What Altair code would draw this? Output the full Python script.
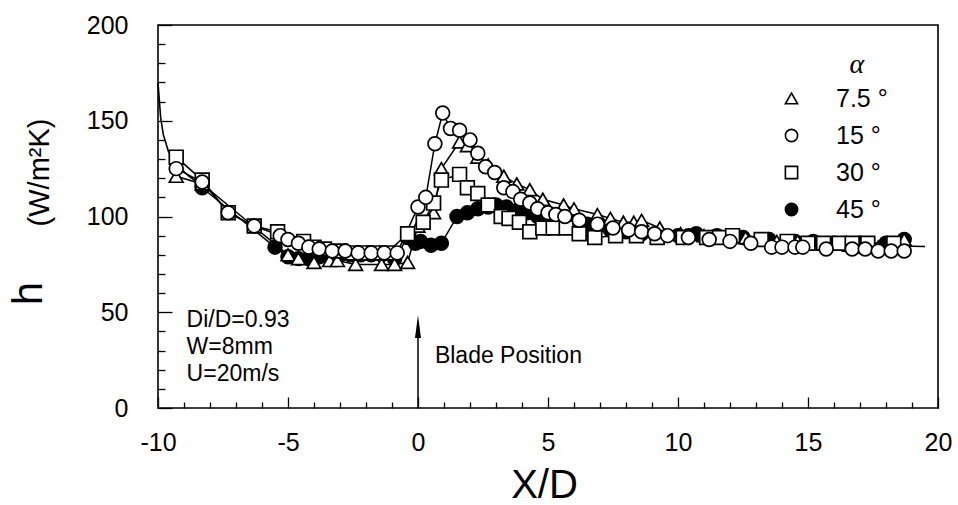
import altair as alt
import pandas as pd

# ---------------- data ----------------
series_labels = ["7.5 °", "15 °", "30 °", "45 °"]

x_75 = [-9.3, -8.3, -5.0, -4.6, -4.0, -3.4, -3.1, -2.4, -1.4, -0.9, -0.4, 0.0, 0.6, 0.9, 1.6, 1.9,
        2.3, 2.7, 3.3, 3.8, 4.3, 4.8, 5.6, 6.0, 6.9, 7.4, 7.9, 8.3, 8.6, 9.3, 10.1, 11.0, 11.7,
        12.6, 13.1, 13.8, 14.6, 15.1, 16.0, 16.6, 17.2, 17.7, 18.2, 18.7]
h_75 = [121, 117, 80, 78, 76, 77, 77, 75, 75, 75, 76, 95, 102, 125, 139, 137,
        131, 127, 121, 117, 114, 109, 106, 104, 101, 99, 97, 97, 98, 94, 91, 90, 89,
        89, 88, 87, 87, 86, 86, 85, 84, 84, 85, 88]

x_15 = [-9.3, -8.3, -7.3, -6.3, -5.3, -5.0, -4.6, -4.2, -3.8, -3.3, -2.8, -2.3, -1.8, -1.3, -0.8,
        0.0, 0.3, 0.65, 0.95, 1.25, 1.6, 2.0, 2.3, 2.6, 2.95, 3.3, 3.65, 3.95, 4.3, 4.6, 5.0,
        5.3, 5.65, 6.2, 6.9, 7.5, 8.1, 8.6, 9.1, 9.6, 10.4, 11.2, 12.0, 12.8, 13.6, 14.0, 14.5,
        14.8, 15.7, 16.7, 17.2, 17.7, 18.2, 18.7]
h_15 = [125, 118, 102, 95, 90, 88, 86, 84, 83, 82, 82, 81, 81, 81, 81,
        105, 110, 138, 154, 146, 145, 140, 133, 126, 123, 115, 113, 109, 107, 104, 102,
        101, 100, 98, 96, 94, 93, 92, 91, 90, 89, 88, 87, 86, 84, 84, 84,
        84, 83, 83, 83, 82, 82, 82]

x_30 = [-9.3, -8.3, -7.3, -6.3, -5.4, -4.4, -4.0, -3.6, -3.0, -2.5, -2.1, -1.7, -1.2, -0.4, 0.2,
        0.6, 0.9, 1.6, 1.9, 2.3, 2.7, 3.2, 3.5, 3.9, 4.3, 4.8, 5.2, 5.7, 6.2, 6.8, 7.6, 8.4,
        9.2, 10.2, 11.1, 11.6, 12.1, 13.2, 14.2, 15.0, 15.6, 16.2, 16.7, 17.3, 18.3]
h_30 = [131, 119, 102, 95, 92, 87, 84, 83, 82, 81, 81, 81, 81, 91, 97,
        107, 119, 122, 115, 112, 106, 100, 99, 97, 92, 94, 94, 94, 91, 89, 90, 90,
        89, 89, 89, 89, 90, 88, 87, 86, 86, 86, 86, 86, 86]

x_45 = [-8.3, -5.5, -5.0, -4.6, -4.2, -3.8, -3.4, -3.0, -2.6, -2.2, -1.8, -1.4, -0.9, -0.4, -0.1,
        0.1, 0.5, 0.9, 1.5, 1.9, 2.3, 2.7, 3.0, 3.4, 3.8, 4.2, 4.6, 5.0, 5.5, 6.0, 6.5, 7.0,
        7.4, 8.0, 8.6, 9.2, 10.0, 10.4, 10.7, 11.5, 12.5, 13.5, 14.5, 15.2, 16.0, 17.0, 18.0, 18.7]
h_45 = [115, 84, 79, 78, 78, 79, 79, 80, 80, 80, 80, 80, 78, 89, 86,
        87, 85, 86, 100, 102, 104, 105, 106, 105, 103, 102, 100, 99, 98, 97, 96, 95.5,
        93, 92, 91, 90, 90, 90, 91, 90, 89, 88, 87, 87, 86, 86, 86, 88]

# smooth reference curve (entry part and tail)
trend_x = [-10.0, -9.9, -9.8, -9.6, -9.3, -8.8, -8.3, 17.5, 18.5, 19.5]
trend_h = [170, 152, 143, 134, 127, 121, 116, 85, 84.6, 84.3]
trend_seg = ["a", "a", "a", "a", "a", "a", "a", "b", "b", "b"]

x_major = [-10, -5, 0, 5, 10, 15, 20]
x_minor = [-9, -8, -7, -6, -4, -3, -2, -1, 1, 2, 3, 4, 6, 7, 8, 9, 11, 12, 13, 14, 16, 17, 18, 19]
y_major = [0, 50, 100, 150, 200]
y_minor = [10, 20, 30, 40, 60, 70, 80, 90, 110, 120, 130, 140, 160, 170, 180, 190]

notes_text = ["Di/D=0.93", "W=8mm", "U=20m/s"]
notes_x = [-8.9, -8.9, -8.9]
notes_h = [46.0, 32.0, 18.0]

blade_text = ["Blade Position"]
blade_x = [0.65]
blade_h = [27]
arrow_x = [0]
arrow_h0 = [0]
arrow_h1 = [40]
head_h = [42.5]

legend_title = ["α"]
legend_title_x = [16.88]
legend_title_h = [179]

# ---------------- tables ----------------
rows = []
for lab, xs, hs in [("45 °", x_45, h_45), ("7.5 °", x_75, h_75),
                    ("30 °", x_30, h_30), ("15 °", x_15, h_15)]:
    for a, b in zip(xs, hs):
        rows.append({"series": lab, "x": a, "h": b})
pts = pd.DataFrame(rows)
trend = pd.DataFrame({"x": trend_x, "h": trend_h, "seg": trend_seg})
notes = pd.DataFrame({"x": notes_x, "h": notes_h, "t": notes_text})
blade = pd.DataFrame({"x": blade_x, "h": blade_h, "t": blade_text})
arrow = pd.DataFrame({"x": arrow_x, "h0": arrow_h0, "h1": arrow_h1, "hh": head_h})
alpha = pd.DataFrame({"x": legend_title_x, "h": legend_title_h, "t": legend_title})

FONT = "Liberation Sans"
xs_scale = alt.Scale(domain=[-10, 20], nice=False, zero=False)
ys_scale = alt.Scale(domain=[0, 200], nice=False, zero=True)


def tick_axis(orient, values, size):
    return alt.Axis(orient=orient, values=values, labels=False, domain=False, ticks=True,
                    tickSize=size, offset=-size, tickColor="black", tickWidth=1.3,
                    title=None, grid=False)


# main labels + titles
x_main = alt.Axis(orient="bottom", values=x_major, ticks=False, tickSize=0, domain=False,
                  labelFontSize=25, labelFont=FONT, labelColor="black", labelPadding=22,
                  labelFlush=False, labelOverlap=False, labelExpr="'' + datum.value",
                  title="X/D", titleFont=FONT, titleFontSize=40, titleFontWeight="normal",
                  titleColor="black", titleX=386, titleY=89, titleAlign="center",
                  titleBaseline="alphabetic", grid=False)
y_main = alt.Axis(orient="left", values=y_major, ticks=False, tickSize=0, domain=False,
                  labelFontSize=25, labelFont=FONT, labelColor="black", labelPadding=30,
                  labelOverlap=False, labelExpr="'' + datum.value",
                  title="h", titleFont=FONT, titleFontSize=42, titleFontWeight="normal",
                  titleColor="black", titleX=-130, titleY=268, titleAngle=270,
                  titleAlign="center", titleBaseline="middle", grid=False)
y_unit = alt.Axis(orient="left", values=[0], labels=False, ticks=False, domain=False,
                  title="(W/m²K)", titleFont=FONT, titleFontSize=29, titleFontWeight="normal",
                  titleColor="black", titleX=-119, titleY=147, titleAngle=270,
                  titleAlign="center", titleBaseline="middle", grid=False)

trend_layer = alt.Chart(trend).mark_line(color="black", strokeWidth=1.6).encode(
    x=alt.X("x:Q", scale=xs_scale, axis=x_main),
    y=alt.Y("h:Q", scale=ys_scale, axis=y_main),
    detail="seg:N",
)

lines_layer = alt.Chart(pts).mark_line(color="black", strokeWidth=1.5).encode(
    x=alt.X("x:Q", scale=xs_scale, axis=tick_axis("bottom", x_minor, 6)),
    y=alt.Y("h:Q", scale=ys_scale, axis=tick_axis("left", y_minor, 7)),
    detail="series:N",
    order="x:Q",
)

legend_kw = dict(orient="none", legendX=621, legendY=61, title=None,
                 labelFont=FONT, labelFontSize=25, labelColor="black",
                 labelOffset=32, rowPadding=11, symbolSize=150, symbolStrokeWidth=1.6,
                 symbolStrokeColor="black", symbolOpacity=1, padding=0)

points_layer = alt.Chart(pts).mark_point(filled=True, strokeWidth=1.7,
                                         opacity=1, size=190).encode(
    x=alt.X("x:Q", scale=xs_scale, axis=tick_axis("bottom", x_major, 11)),
    y=alt.Y("h:Q", scale=ys_scale, axis=tick_axis("left", y_major, 14)),
    shape=alt.Shape("series:N", scale=alt.Scale(domain=series_labels,
                    range=["triangle-up", "circle", "square", "circle"]),
                    legend=alt.Legend(**legend_kw)),
    fill=alt.Fill("series:N", scale=alt.Scale(domain=series_labels,
                  range=["white", "white", "white", "black"]),
                  legend=alt.Legend(**legend_kw)),
    stroke=alt.Stroke("series:N", scale=alt.Scale(domain=series_labels,
                      range=["black", "black", "black", "black"]),
                      legend=alt.Legend(**legend_kw)),
)

alpha_layer = alt.Chart(alpha).mark_text(align="center", baseline="middle", fontSize=28,
                                         font="Liberation Serif", fontStyle="italic",
                                         color="black").encode(
    x=alt.X("x:Q", scale=xs_scale, axis=None),
    y=alt.Y("h:Q", scale=ys_scale, axis=None),
    text="t:N",
)

notes_layer = alt.Chart(notes).mark_text(align="left", baseline="middle", fontSize=23,
                                         font=FONT, color="black").encode(
    x=alt.X("x:Q", scale=xs_scale, axis=None),
    y=alt.Y("h:Q", scale=ys_scale, axis=y_unit),
    text="t:N",
)

blade_layer = alt.Chart(blade).mark_text(align="left", baseline="middle", fontSize=23,
                                         font=FONT, color="black").encode(
    x=alt.X("x:Q", scale=xs_scale, axis=None),
    y=alt.Y("h:Q", scale=ys_scale, axis=None),
    text="t:N",
)

arrow_line = alt.Chart(arrow).mark_rule(color="black", strokeWidth=1.5).encode(
    x=alt.X("x:Q", scale=xs_scale, axis=None),
    y=alt.Y("h0:Q", scale=ys_scale, axis=None),
    y2="h1:Q",
)

arrow_head = alt.Chart(arrow).mark_point(shape="M0,-1L0.26,1L-0.26,1Z", filled=True,
                                         fill="black", strokeWidth=0, opacity=1,
                                         size=529).encode(
    x=alt.X("x:Q", scale=xs_scale, axis=None),
    y=alt.Y("hh:Q", scale=ys_scale, axis=None),
)

chart = alt.layer(
    trend_layer, lines_layer, points_layer, alpha_layer, notes_layer, blade_layer,
    arrow_line, arrow_head
).resolve_axis(x="independent", y="independent").resolve_scale(
    x="shared", y="shared"
).properties(
    width=780, height=383,
    autosize=alt.AutoSizeParams(type="none"),
    padding={"left": 158, "top": 25, "right": 20, "bottom": 97},
    background="white",
).configure_view(stroke="black", strokeWidth=1.6).configure_axis(grid=False)

chart.save("out.html", embed_options={"renderer": "svg", "actions": False})
